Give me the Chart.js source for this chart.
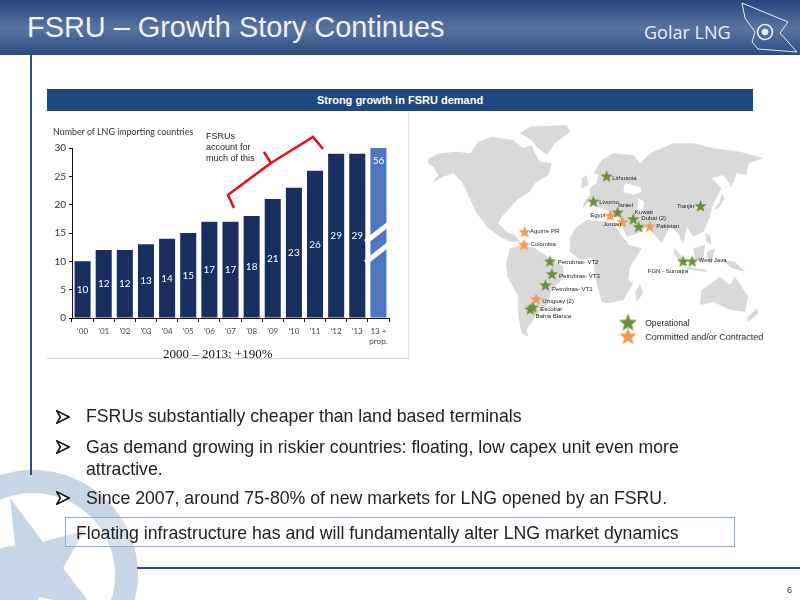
<!DOCTYPE html>
<html>
<head>
<meta charset="utf-8">
<title>FSRU - Growth Story Continues</title>
<script src="https://cdn.jsdelivr.net/npm/chart.js@4"></script>
<style>
html, body { margin: 0; padding: 0; background: #fff; }
#slide { position: relative; width: 800px; height: 600px; overflow: hidden; font-family: "Liberation Sans", Arial, sans-serif; color: #222; }
#slide > * { position: absolute; }
#header { left: 0; top: 0; width: 800px; height: 55px; background: linear-gradient(#27457f 0%, #5a74a1 52%, #2b4b80 100%); }
#title { left: 27px; top: 11px; font-size: 28.9px; color: #eef1f6; white-space: nowrap; }
#brand { left: 644px; top: 20px; font-family: "Open Sans", sans-serif; font-size: 18px; color: #e8ecf3; white-space: nowrap; }
#rule-v { left: 30px; top: 55px; width: 2px; height: 420px; background: #2f4f85; }
#rule-h { left: 137px; top: 567px; width: 663px; height: 2px; background: #2f4f85; }
#band { left: 47px; top: 89px; width: 706px; height: 22px; line-height: 23px; background: #1f497d; color: #fff; font-size: 11px; font-weight: bold; text-align: center; }
#panel { left: 47px; top: 113px; width: 361px; height: 245px; background: #fff; border-right: 1px solid #e4e4e4; border-bottom: 1px solid #d8d8d8; }
#bars-wrap { left: 47px; top: 120px; width: 363px; height: 240px; }
#map-art { left: 420px; top: 120px; width: 350px; height: 240px; }
#map-wrap { left: 420px; top: 120px; width: 350px; height: 240px; }
#y-title { left: 53px; top: 126px; font-family: Lato, sans-serif; font-size: 8.9px; color: #333; white-space: nowrap; }
#note { left: 206px; top: 131px; font-size: 9px; line-height: 11px; color: #222; }
#growth { left: 163px; top: 346px; font-family: "Liberation Serif", serif; font-size: 13px; color: #111; white-space: nowrap; }
.bullet { left: 86px; width: 620px; font-size: 17.7px; line-height: 22px; color: #222; }
.mark { left: 56px; width: 14px; height: 14px; }
#callout { left: 65px; top: 517px; width: 668px; height: 28px; line-height: 30px; border: 1px solid #8fadd0; text-indent: 10px; font-size: 17.7px; color: #222; background: rgba(255,255,255,0.3); white-space: nowrap; }
#page { left: 787px; top: 585px; font-size: 9px; color: #333; }
</style>
</head>
<body>
<div id="slide">
  <svg id="star-mark" style="left:0;top:460px" width="150" height="140" viewBox="0 0 150 140">
    <circle cx="33" cy="115" r="93.5" fill="none" stroke="#c6d6e4" stroke-width="23"/>
    <polygon points="10,38 43,82 85,70 63,108 95,150 40,137 35,145 -10,145 -30,95 15,85" fill="#c6d6e4"/>
  </svg>
  <div id="header"></div>
  <div id="title">FSRU – Growth Story Continues</div>
  <div id="brand">Golar LNG</div>
  <svg id="flag" style="left:735px;top:0" width="65" height="55" viewBox="0 0 65 55" fill="none" stroke="#e8ecf3" stroke-width="1">
    <path d="M7 3 L53 22 L45 33 L62 52 L23 49 L17 42 L20 32 L10 18 Z"/>
    <circle cx="30" cy="32" r="7.5" stroke-width="1.6"/>
    <circle cx="30" cy="32" r="3" fill="#e8ecf3"/>
  </svg>
  <div id="rule-v"></div>
  <div id="rule-h"></div>
  <div id="band">Strong growth in FSRU demand</div>
  <div id="panel"></div>
  <div id="bars-wrap"><canvas id="barsChart" width="363" height="240"></canvas></div>
  <div id="y-title">Number of LNG importing countries</div>
  <div id="note">FSRUs<br>account for<br>much of this</div>
  <svg style="left:0;top:0;pointer-events:none" width="800" height="600" fill="none" stroke="#e0141c" stroke-width="2.6">
    <polyline points="234,208 228,195 271,163 313,137 323,149"/>
    <line x1="271" y1="163" x2="264" y2="152"/>
  </svg>
  <div id="growth">2000 – 2013: +190%</div>

  <svg id="map-art" viewBox="0 0 1050 720" fill="#d9d9d9">
    <polygon points="25,115 60,100 110,95 150,100 175,65 215,50 280,60 310,85 335,75 345,100 360,125 395,130 385,165 345,190 330,215 290,240 270,265 245,290 235,310 250,325 265,340 285,345 300,365 270,365 240,350 205,325 170,280 140,215 125,185 100,160 70,170 35,190 55,165 40,140 25,130"/>
    <polygon points="300,40 330,20 440,15 450,35 405,70 380,105 350,80 335,60"/>
    <polygon points="270,385 305,375 345,385 390,415 430,440 430,475 395,510 385,550 345,590 320,630 325,650 305,640 295,590 295,530 262,470 258,430"/>
    <polygon points="450,355 465,325 500,300 555,305 600,320 625,375 665,385 630,440 625,480 640,490 610,540 565,550 545,545 525,470 520,415 480,420 450,395"/>
    <polygon points="490,250 510,225 510,205 530,190 535,165 520,160 545,120 580,100 640,105 660,130 690,100 760,70 820,70 880,85 960,95 1030,115 985,130 980,165 950,160 935,200 910,165 875,175 905,205 880,250 870,290 850,335 820,350 800,320 790,375 775,340 750,320 725,370 700,340 680,320 655,340 620,350 595,295 560,270 530,260 510,240 490,265"/>
    <polygon points="485,175 500,165 505,195 485,205"/>
    <polygon points="905,220 915,235 895,265 880,270 900,245"/>
    <polygon points="765,385 800,430 790,435 760,400"/>
    <polygon points="800,440 860,450 860,456 800,448"/>
    <polygon points="820,385 855,375 850,420 825,420"/>
    <polygon points="860,395 885,385 875,430 865,425"/>
    <polygon points="905,420 945,425 975,455 935,445"/>
    <polygon points="855,340 870,345 875,375 860,365"/>
    <polygon points="845,510 900,470 930,495 945,470 985,530 975,575 930,570 880,545 840,555"/>
    <polygon points="1010,565 1015,580 985,605 980,595"/>
    <polygon points="660,490 670,520 650,545 645,520"/>
    <polygon points="615,190 660,200 665,215 640,225 610,215" fill="#fff"/>
    <polygon points="655,235 672,245 668,285 652,270" fill="#fff"/>
    <polygon points="580,310 590,308 625,362 615,360" fill="#fff"/>
  </svg>
  <div id="map-wrap"><canvas id="mapChart" width="350" height="240"></canvas></div>

  <svg class="mark" style="top:410px" viewBox="0 0 16 16"><path d="M1 1 L15 8 L1 15 L5 8 Z" fill="#fff" stroke="#111" stroke-width="1.8"/></svg>
  <div class="bullet" style="top:405px">FSRUs substantially cheaper than land based terminals</div>
  <svg class="mark" style="top:440px" viewBox="0 0 16 16"><path d="M1 1 L15 8 L1 15 L5 8 Z" fill="#fff" stroke="#111" stroke-width="1.8"/></svg>
  <div class="bullet" style="top:436px">Gas demand growing in riskier countries: floating, low capex unit even more attractive.</div>
  <svg class="mark" style="top:491px" viewBox="0 0 16 16"><path d="M1 1 L15 8 L1 15 L5 8 Z" fill="#fff" stroke="#111" stroke-width="1.8"/></svg>
  <div class="bullet" style="top:487px">Since 2007, around 75-80% of new markets for LNG opened by an FSRU.</div>
  <div id="callout">Floating infrastructure has and will fundamentally alter LNG market dynamics</div>
  <div id="page">6</div>
</div>

<script>
// bar chart data
const years = ["'00", "'01", "'02", "'03", "'04", "'05", "'06", "'07", "'08", "'09", "'10", "'11", "'12", "'13", ['13 +', 'prop.']];
const countries = [10, 12, 12, 13, 14, 15, 17, 17, 18, 21, 23, 26, 29, 29, 56];
const yTicks = [0, 5, 10, 15, 20, 25, 30];

// map data, in map units
const operational = [[561, 162], [520, 241], [595, 275], [643, 296], [660, 320], [851, 255], [825, 428], [797, 428], [386, 428], [392, 468], [372, 503], [333, 572], [325, 578]];
const committed = [[572, 285], [610, 305], [694, 319], [308, 336], [306, 376], [343, 546]];
const legendGreen = [[627, 620]];
const legendOrange = [[627, 663]];
const placeNames = ['Lithuania', 'Livorno', 'Israel', 'Egypt', 'Jordan', 'Kuwait', 'Dubai (2)', 'Pakistan', 'Tianjin', 'West Java', 'FGN - Sumatra', 'Aguirre PR', 'Colombia', 'Petrobras- VT2', 'Petrobras- VT3', 'Petrobras- VT1', 'Uruguay (2)', 'Escobar', 'Bahia Blanca'];
const placeSpots = [[578, 166], [538, 243], [597, 252], [510, 284], [550, 311], [648, 272], [668, 292], [714, 318], [778, 255], [845, 423], [688, 457], [324, 332], [326, 374], [410, 430], [414, 474], [392, 516], [362, 552], [356, 577], [342, 599]];

const blue = '#182f60';
const lightBlue = '#4f76c0';

// numbers inside the bars and the white break on the last bar
const barExtras = {
	id: 'barExtras',
	afterDatasetsDraw(chart) {
		const ctx = chart.ctx;
		const bars = chart.getDatasetMeta(0).data;
		const area = chart.chartArea;
		const yScale = chart.scales.y;
		ctx.save();

		// break marks
		const last = bars[bars.length - 1];
		const x0 = last.x - last.width / 2 - 5;
		const x1 = last.x + last.width / 2 + 3;
		ctx.strokeStyle = '#fff';
		ctx.lineWidth = 5;
		[[13.4, 16.7], [9.8, 13.1]].forEach(b => {
			ctx.beginPath();
			ctx.moveTo(x0, yScale.getPixelForValue(b[0]));
			ctx.lineTo(x1, yScale.getPixelForValue(b[1]));
			ctx.stroke();
		});

		ctx.fillStyle = '#fff';
		ctx.font = '10px Lato, sans-serif';
		ctx.textAlign = 'center';
		ctx.textBaseline = 'middle';
		bars.forEach((bar, i) => {
			let y = yScale.getPixelForValue(countries[i] / 2);
			if (countries[i] > yScale.max) y = area.top + 13;
			ctx.fillText(countries[i], bar.x, y);
		});
		ctx.restore();
	}
};

new Chart(document.getElementById('barsChart'), {
	type: 'bar',
	data: {
		labels: years,
		datasets: [{
			data: countries,
			backgroundColor: countries.map((v, i) => i === countries.length - 1 ? lightBlue : blue),
			categoryPercentage: 0.76,
			barPercentage: 1
		}]
	},
	options: {
		responsive: false,
		animation: false,
		layout: { padding: { top: 28, right: 21, left: 0, bottom: 0 } },
		plugins: { legend: { display: false }, tooltip: { enabled: false } },
		scales: {
			x: {
				afterFit: s => { s.height = 42; },
				grid: { display: true, drawOnChartArea: false, color: '#111', tickLength: 4 },
				border: { color: '#111' },
				ticks: { color: '#444', font: { family: 'Lato', size: 8 }, maxRotation: 0, autoSkip: false, padding: 5 }
			},
			y: {
				min: 0,
				max: 30,
				afterFit: s => { s.width = 25; },
				afterBuildTicks: s => { s.ticks = yTicks.map(v => ({ value: v })); },
				grid: { display: true, drawOnChartArea: false, color: '#111', tickLength: 3 },
				border: { color: '#111' },
				ticks: { color: '#333', font: { family: 'Lato', size: 10 }, padding: 3 }
			}
		}
	},
	plugins: [barExtras]
});

function starImage(r, color) {
	const c = document.createElement('canvas');
	c.width = c.height = r * 2 + 2;
	const g = c.getContext('2d');
	g.fillStyle = color;
	g.beginPath();
	for (let i = 0; i < 10; i++) {
		const rad = i % 2 ? r * 0.42 : r;
		const a = -Math.PI / 2 + i * Math.PI / 5;
		g.lineTo(r + 1 + rad * Math.cos(a), r + 1 + rad * Math.sin(a));
	}
	g.closePath();
	g.fill();
	return c;
}

const green = '#6b8e3a';
const orange = '#f29a50';
const toPoints = list => list.map(p => ({ x: p[0], y: p[1] }));

const mapLabels = {
	id: 'mapLabels',
	afterDatasetsDraw(chart) {
		const ctx = chart.ctx;
		const sx = chart.scales.x;
		const sy = chart.scales.y;
		ctx.save();
		ctx.fillStyle = '#222';
		ctx.font = '6px "Liberation Sans", sans-serif';
		ctx.textBaseline = 'middle';
		placeNames.forEach((name, i) => {
			ctx.fillText(name, sx.getPixelForValue(placeSpots[i][0]), sy.getPixelForValue(placeSpots[i][1]));
		});
		// legend, the last line is cut at the bottom in the original
		ctx.font = '8.6px "Liberation Sans", sans-serif';
		ctx.fillText('Operational', sx.getPixelForValue(680), sy.getPixelForValue(622));
		ctx.font = '9px "Liberation Sans", sans-serif';
		ctx.beginPath();
		ctx.rect(0, 0, chart.width, sy.getPixelForValue(672));
		ctx.clip();
		ctx.fillText('Committed and/or Contracted', sx.getPixelForValue(680), sy.getPixelForValue(666));
		ctx.restore();
	}
};

new Chart(document.getElementById('mapChart'), {
	type: 'scatter',
	data: {
		datasets: [
			{ data: toPoints(operational), pointStyle: starImage(6.5, green) },
			{ data: toPoints(committed), pointStyle: starImage(6.5, orange) },
			{ data: toPoints(legendGreen), pointStyle: starImage(9.5, green) },
			{ data: toPoints(legendOrange), pointStyle: starImage(9.5, orange) }
		]
	},
	options: {
		responsive: false,
		animation: false,
		layout: { padding: 0 },
		plugins: { legend: { display: false }, tooltip: { enabled: false } },
		scales: {
			x: { display: false, min: 0, max: 1050 },
			y: { display: false, min: 0, max: 720, reverse: true }
		}
	},
	plugins: [mapLabels]
});
</script>
</body>
</html>
